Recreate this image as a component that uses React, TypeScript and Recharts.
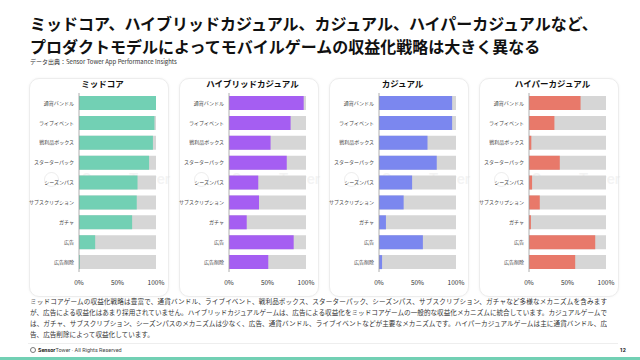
import React from 'react';
import { BarChart, Bar, XAxis, YAxis } from 'recharts';

const categories = ['通貨バンドル', 'ライブイベント', '戦利品ボックス', 'スターターパック', 'シーズンパス', 'サブスクリプション', 'ガチャ', '広告', '広告削除'];
const midcore = [100, 98, 96, 91, 76, 75, 69, 21, 1];
const hybridCasual = [97, 80, 54, 75, 38, 39, 23, 84, 51];
const casual = [95, 95, 63, 75, 43, 32, 9, 57, 4];
const hyperCasual = [67, 33, 3, 40, 4, 14, 2.5, 86, 60];
const xTicks = [0, 50, 100];

const panelTitles = ['ミッドコア', 'ハイブリッドカジュアル', 'カジュアル', 'ハイパーカジュアル'];
const panelValues = [midcore, hybridCasual, casual, hyperCasual];
const panelColors = ['#72d0b4', '#a55ef2', '#7b87ef', '#e8796a'];

const titleLines = [
  'ミッドコア、ハイブリッドカジュアル、カジュアル、ハイパーカジュアルなど、',
  'プロダクトモデルによってモバイルゲームの収益化戦略は大きく異なる',
];
const sourceText = 'データ出典：Sensor Tower App Performance Insights';
const bodyLines = [
  'ミッドコアゲームの収益化戦略は豊富で、通貨バンドル、ライブイベント、戦利品ボックス、スターターパック、シーズンパス、サブスクリプション、ガチャなど多様なメカニズムを含みます',
  'が、広告による収益化はあまり採用されていません。ハイブリッドカジュアルゲームは、広告による収益化をミッドコアゲームの一般的な収益化メカニズムに統合しています。カジュアルゲームで',
  'は、ガチャ、サブスクリプション、シーズンパスのメカニズムは少なく、広告、通貨バンドル、ライブイベントなどが主要なメカニズムです。ハイパーカジュアルゲームは主に通貨バンドル、広',
  '告、広告削除によって収益化しています。',
];

const FONT = '"Noto Sans CJK JP", "Noto Sans", sans-serif';

function Panel({ index }: { index: number }) {
  const left = 30 + 150 * index;
  const top = 78;
  const data = categories.map((c, i) => ({ cat: c, v: panelValues[index][i] }));
  return (
    <>
      <div
        style={{
          position: 'absolute',
          left: left - 1,
          top,
          width: 140,
          height: 219,
          boxSizing: 'border-box',
          border: '1px solid #ededed',
          borderRadius: 10,
          background: '#fff',
          boxShadow: '0 0 3px rgba(0,0,0,0.05)',
        }}
      />
      <div
        style={{
          position: 'absolute',
          left: left + 3,
          top: top,
          width: 139,
          height: 11,
          lineHeight: '11px',
          textAlign: 'center',
          fontSize: 8.5,
          fontWeight: 700,
          color: '#111',
          fontFamily: FONT,
        }}
      >
        {panelTitles[index]}
      </div>
      <div
        style={{
          position: 'absolute',
          left: left + 14,
          top: 172,
          width: 13,
          height: 13,
          borderRadius: '50%',
          border: '1.5px solid rgba(215,215,215,0.45)',
          pointerEvents: 'none',
        }}
      />
      <div
        style={{
          position: 'absolute',
          left: left + 52,
          top: 169,
          height: 20,
          lineHeight: '20px',
          fontSize: 15,
          fontWeight: 500,
          fontFamily: 'Roboto, sans-serif',
          color: 'rgba(228,228,228,0.45)',
          pointerEvents: 'none',
          whiteSpace: 'nowrap',
        }}
      >
        SensorTower
      </div>
      <div style={{ position: 'absolute', left: left - 6, top }}>
        <BarChart
          width={145}
          height={219}
          data={data}
          layout="vertical"
          margin={{ top: 15, right: 13, bottom: 13, left: 0 }}
        >
          <XAxis
            type="number"
            domain={[0, 100]}
            ticks={xTicks}
            tickFormatter={(v: number) => `${v}%`}
            axisLine={false}
            tickLine={false}
            height={12}
            tick={{ fontSize: 6.5, fill: '#333', fontFamily: FONT }}
          />
          <YAxis
            type="category"
            dataKey="cat"
            width={55}
            interval={0}
            axisLine={{ stroke: '#9a9a9a', strokeWidth: 0.8 }}
            tickLine={false}
            tickSize={3}
            tickMargin={2}
            tick={{ fontSize: 5, fill: '#444', fontFamily: FONT }}
          />
          <Bar
            dataKey="v"
            fill={panelColors[index]}
            barSize={14}
            background={{ fill: '#d6d6d6' }}
            isAnimationActive={false}
          />
        </BarChart>
      </div>
    </>
  );
}

export default function App() {
  return (
    <div
      style={{
        position: 'absolute',
        left: 0,
        top: 0,
        width: 640,
        height: 360,
        overflow: 'hidden',
        background: '#fff',
        fontFamily: FONT,
      }}
    >
      <div
        style={{
          position: 'absolute',
          left: 30,
          top: 11.5,
          lineHeight: '23.4px',
          fontSize: 16,
          fontWeight: 700,
          color: '#111',
          whiteSpace: 'nowrap',
        }}
      >
        {titleLines[0]}
        <br />
        {titleLines[1]}
      </div>
      <div
        style={{
          position: 'absolute',
          left: 30,
          top: 57,
          height: 10,
          lineHeight: '10px',
          fontSize: 6,
          color: '#333',
          whiteSpace: 'nowrap',
        }}
      >
        {sourceText}
      </div>
      {[0, 1, 2, 3].map((i) => (
        <Panel key={i} index={i} />
      ))}
      {bodyLines.map((t, i) => (
        <div
          key={i}
          style={{
            position: 'absolute',
            left: 30,
            top: 296 + i * 11,
            width: 577,
            height: 11,
            lineHeight: '11px',
            fontSize: 6.6,
            color: '#333',
            whiteSpace: 'nowrap',
            textAlign: i < 3 ? 'justify' : 'left',
            textAlignLast: i < 3 ? 'justify' : 'left',
            overflow: 'hidden',
          }}
        >
          {t}
        </div>
      ))}
      <div style={{ position: 'absolute', left: 28, top: 343, width: 590, height: 1, background: '#eeeeee' }} />
      <div
        style={{
          position: 'absolute',
          left: 30,
          top: 347,
          width: 6,
          height: 6,
          borderRadius: '50%',
          border: '0.8px solid #777',
          boxSizing: 'border-box',
        }}
      />
      <div
        style={{
          position: 'absolute',
          left: 38,
          top: 345,
          height: 10,
          lineHeight: '10px',
          fontSize: 5.5,
          color: '#444',
          whiteSpace: 'nowrap',
          fontFamily: 'Roboto, sans-serif',
        }}
      >
        <span style={{ fontWeight: 700, color: '#222' }}>Sensor</span>Tower · All Rights Reserved
      </div>
      <div
        style={{
          position: 'absolute',
          left: 612,
          top: 345,
          width: 14,
          height: 10,
          lineHeight: '10px',
          fontSize: 5.5,
          fontWeight: 700,
          color: '#222',
          textAlign: 'right',
          fontFamily: 'Roboto, sans-serif',
        }}
      >
        12
      </div>
      <div style={{ position: 'absolute', left: 0, top: 357, width: 640, height: 3, background: '#72d0b4' }} />
    </div>
  );
}
